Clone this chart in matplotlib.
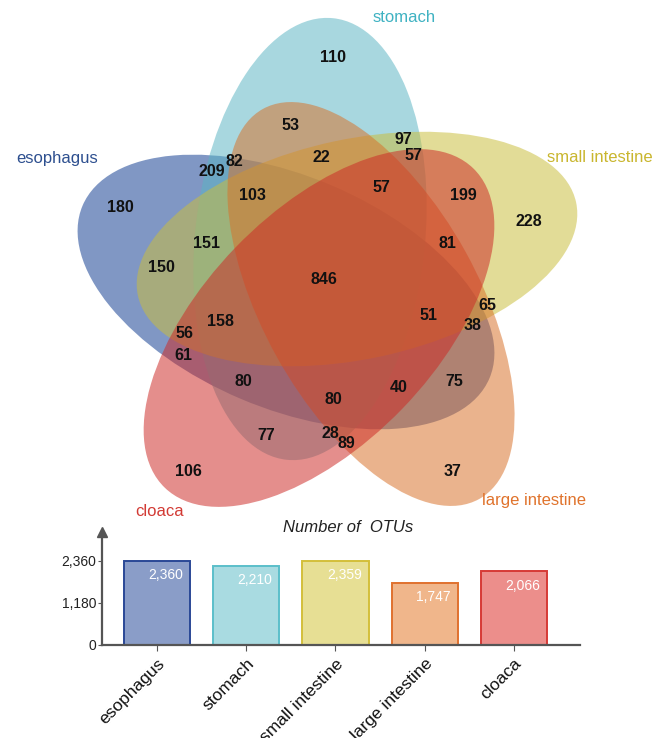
import matplotlib
matplotlib.use('Agg')
import matplotlib.pyplot as plt
from matplotlib.patches import Ellipse

plt.rcParams['font.family'] = ['Liberation Sans', 'DejaVu Sans']

# ---------------- data ----------------
sets = ['esophagus', 'stomach', 'small intestine', 'large intestine', 'cloaca']
totals = [2360, 2210, 2359, 1747, 2066]
total_labels = ['2,360', '2,210', '2,359', '1,747', '2,066']
ytick_values = [0, 1180, 2360]
ytick_labels = ['0', '1,180', '2,360']
region_counts = [110, 53, 22, 97, 57, 82, 209, 180, 103, 57, 199, 228, 151, 81,
                 150, 846, 158, 51, 65, 38, 56, 61, 80, 40, 75, 80, 77, 28, 89,
                 106, 37]

# ---------------- layout (pixel coordinates) ----------------
W, H = 665, 738
region_xy = [(333, 58), (291, 125), (321, 158), (403, 139), (413, 156), (234, 162),
             (212, 172), (120, 207), (252, 195), (381, 187), (463, 195), (529, 221),
             (207, 243), (447, 243), (161, 267), (324, 279), (220, 321), (429, 315),
             (487, 305), (473, 325), (185, 334), (183, 355), (243, 382), (399, 387),
             (454, 382), (333, 399), (266, 436), (330, 433), (346, 443), (188, 472),
             (453, 472)]
# ellipse geometry per set: centre, visual angle of major axis (deg, counter-clockwise)
ell_center = [(286, 292), (310, 239), (357, 249), (371, 304), (319, 328)]
ell_angle = [157, 84, 12, -61, -134]
ell_a = [221, 222, 224, 223, 222]
ell_b = [116, 115, 110, 108, 116]
ell_color = ['#0f3c90', '#5bb5c3', '#cabd3c', '#d97129', '#cc2a26']
ell_alpha = 0.53
label_xy = [(57, 158), (404, 17), (600, 158), (534, 501), (160, 511)]
label_color = ['#2d4f8f', '#3fb2c2', '#c9b62e', '#e0732c', '#d23a34']

bar_fill = ['#8a9dc8', '#a9dbe1', '#e7df94', '#f0b68b', '#ec8e8b']
bar_edge = ['#2a4896', '#5bbfca', '#d3bf3a', '#e0712e', '#d63a36']

fig = plt.figure(figsize=(W / 100, H / 100), dpi=100)

# ---------------- Venn ----------------
ax = fig.add_axes([0, 0, 1, 1])
ax.set_xlim(0, W)
ax.set_ylim(H, 0)
ax.axis('off')
for c, ang, a, b, col in zip(ell_center, ell_angle, ell_a, ell_b, ell_color):
    ax.add_patch(Ellipse(c, 2 * a, 2 * b, angle=-ang, facecolor=col,
                         edgecolor='none', alpha=ell_alpha))
for (x, y), v in zip(region_xy, region_counts):
    ax.text(x, y, str(v), ha='center', va='center', fontsize=11.5,
            fontweight='bold', color='#111111')
for (x, y), name, col in zip(label_xy, sets, label_color):
    ax.text(x, y, name, ha='center', va='center', fontsize=12, color=col)

# ---------------- bar chart ----------------
left_px, right_px, base_px, top_px = 101.7, 580, 645, 531.7
bx = fig.add_axes([left_px / W, 1 - base_px / H, (right_px - left_px) / W,
                   (base_px - top_px) / H])
bx.patch.set_alpha(0)
xs = list(range(len(sets)))
bx.bar(xs, totals, width=0.74, color=bar_fill, edgecolor=bar_edge, linewidth=1.4)
bx.set_xlim(-0.62, 4.74)
bx.set_ylim(0, 3174)
for x, v, t in zip(xs, totals, total_labels):
    bx.text(x + 0.1, v - 400, t, ha='center', va='center', color='white',
            fontsize=10)
bx.set_yticks(ytick_values)
bx.set_yticklabels(ytick_labels, fontsize=10, color='#222222')
bx.set_xticks(xs)
bx.set_xticklabels(sets, rotation=45, ha='right', rotation_mode='anchor',
                   fontsize=12.5, color='#111111')
bx.tick_params(axis='x', length=4, color='#555555', pad=4)
bx.tick_params(axis='y', length=3, color='#555555', pad=1)
for s in ['top', 'right']:
    bx.spines[s].set_visible(False)
for s in ['left', 'bottom']:
    bx.spines[s].set_color('#555555')
    bx.spines[s].set_linewidth(1.6)
bx.plot(0, 1, marker='^', color='#555555', markersize=7, transform=bx.transAxes,
        clip_on=False)
fig.text(348 / W, 1 - 528 / H, 'Number of  OTUs', ha='center', va='center',
         fontsize=12, fontstyle='italic', color='#222222')

fig.savefig('out.png', dpi=100)
